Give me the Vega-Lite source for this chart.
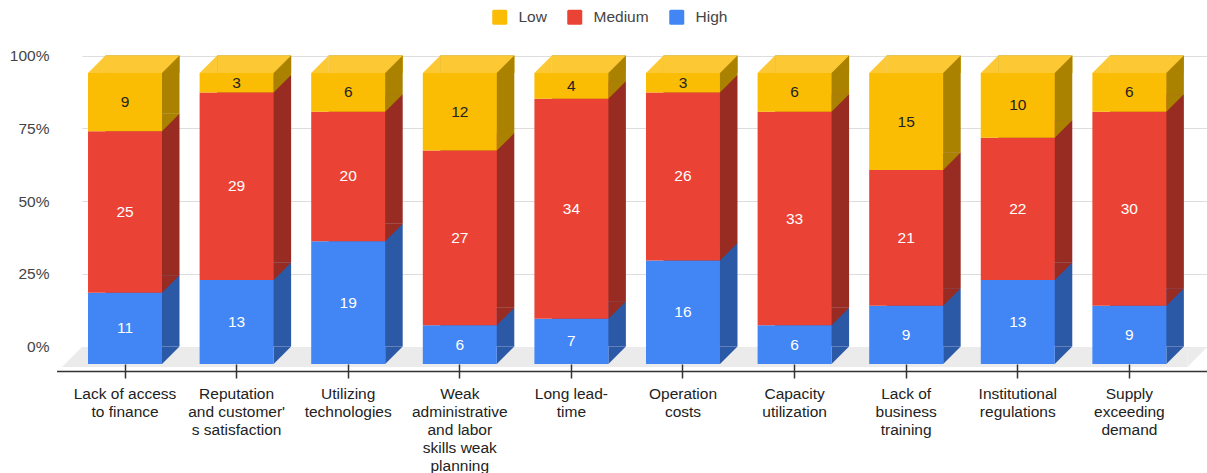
{
  "$schema": "https://vega.github.io/schema/vega-lite/v6.json",
  "width": 1125,
  "height": 291,
  "autosize": "none",
  "padding": {"left": 82, "top": 73, "right": 0, "bottom": 109},
  "config": {
    "view": {"stroke": null},
    "font": "Liberation Sans"
  },
  "datasets": {
    "survey": [
      {"factor": "Lack of access\nto finance", "level": "High", "count": 11},
      {"factor": "Lack of access\nto finance", "level": "Medium", "count": 25},
      {"factor": "Lack of access\nto finance", "level": "Low", "count": 9},
      {"factor": "Reputation\nand customer'\ns satisfaction", "level": "High", "count": 13},
      {"factor": "Reputation\nand customer'\ns satisfaction", "level": "Medium", "count": 29},
      {"factor": "Reputation\nand customer'\ns satisfaction", "level": "Low", "count": 3},
      {"factor": "Utilizing\ntechnologies", "level": "High", "count": 19},
      {"factor": "Utilizing\ntechnologies", "level": "Medium", "count": 20},
      {"factor": "Utilizing\ntechnologies", "level": "Low", "count": 6},
      {"factor": "Weak\nadministrative\nand labor\nskills weak\nplanning", "level": "High", "count": 6},
      {"factor": "Weak\nadministrative\nand labor\nskills weak\nplanning", "level": "Medium", "count": 27},
      {"factor": "Weak\nadministrative\nand labor\nskills weak\nplanning", "level": "Low", "count": 12},
      {"factor": "Long lead-\ntime", "level": "High", "count": 7},
      {"factor": "Long lead-\ntime", "level": "Medium", "count": 34},
      {"factor": "Long lead-\ntime", "level": "Low", "count": 4},
      {"factor": "Operation\ncosts", "level": "High", "count": 16},
      {"factor": "Operation\ncosts", "level": "Medium", "count": 26},
      {"factor": "Operation\ncosts", "level": "Low", "count": 3},
      {"factor": "Capacity\nutilization", "level": "High", "count": 6},
      {"factor": "Capacity\nutilization", "level": "Medium", "count": 33},
      {"factor": "Capacity\nutilization", "level": "Low", "count": 6},
      {"factor": "Lack of\nbusiness\ntraining", "level": "High", "count": 9},
      {"factor": "Lack of\nbusiness\ntraining", "level": "Medium", "count": 21},
      {"factor": "Lack of\nbusiness\ntraining", "level": "Low", "count": 15},
      {"factor": "Institutional\nregulations", "level": "High", "count": 13},
      {"factor": "Institutional\nregulations", "level": "Medium", "count": 22},
      {"factor": "Institutional\nregulations", "level": "Low", "count": 10},
      {"factor": "Supply\nexceeding\ndemand", "level": "High", "count": 9},
      {"factor": "Supply\nexceeding\ndemand", "level": "Medium", "count": 30},
      {"factor": "Supply\nexceeding\ndemand", "level": "Low", "count": 6}
    ],
    "levels": [
      {"level": "High", "stackOrder": 1},
      {"level": "Medium", "stackOrder": 2},
      {"level": "Low", "stackOrder": 3}
    ]
  },
  "data": {"name": "survey"},
  "transform": [
    {"lookup": "level", "from": {"data": {"name": "levels"}, "key": "level", "fields": ["stackOrder"]}}
  ],
  "layer": [
    {
      "data": {"values": [{}]},
      "mark": {"type": "rule", "color": "#ebebeb", "strokeWidth": 20, "yOffset": -7, "xOffset": -6, "x2Offset": 21},
      "encoding": {
        "x": {"datum": "Lack of access\nto finance", "type": "nominal", "bandPosition": 0},
        "x2": {"datum": "Supply\nexceeding\ndemand", "bandPosition": 1},
        "y": {"datum": 0, "type": "quantitative"}
      }
    },
    {
      "data": {"values": [{}]},
      "mark": {"type": "point", "shape": "M0,0L-1,1L0,1Z", "size": 1600, "filled": true, "opacity": 1, "strokeWidth": 0, "color": "#ebebeb", "xOffset": -6, "yOffset": -17},
      "encoding": {
        "x": {"datum": "Lack of access\nto finance", "type": "nominal", "bandPosition": 0},
        "y": {"datum": 0, "type": "quantitative"}
      }
    },
    {
      "data": {"values": [{}]},
      "mark": {"type": "point", "shape": "M0,0L1,0L0,1Z", "size": 1600, "filled": true, "opacity": 1, "strokeWidth": 0, "color": "#ebebeb", "xOffset": 21, "yOffset": -17},
      "encoding": {
        "x": {"datum": "Supply\nexceeding\ndemand", "type": "nominal", "bandPosition": 1},
        "y": {"datum": 0, "type": "quantitative"}
      }
    },
    {
      "data": {"values": [{}]},
      "mark": {"type": "rule", "color": "#333333", "strokeWidth": 1.5, "yOffset": 7.5, "xOffset": -31, "x2Offset": 41},
      "encoding": {
        "x": {"datum": "Lack of access\nto finance", "type": "nominal", "bandPosition": 0},
        "x2": {"datum": "Supply\nexceeding\ndemand", "bandPosition": 1},
        "y": {"datum": 0, "type": "quantitative"}
      }
    },
    {
      "mark": {"type": "bar", "xOffset": 17.5, "yOffset": -17.5, "y2Offset": -17.5},
      "encoding": {
        "x": {"field": "factor", "type": "nominal", "sort": null},
        "y": {"field": "count", "type": "quantitative", "stack": "normalize"},
        "order": {"field": "stackOrder"},
        "fill": {
          "field": "level",
          "type": "nominal",
          "scale": {"domain": ["High", "Medium", "Low"], "range": ["#2c59a5", "#982b22", "#aa8200"]},
          "legend": null
        }
      }
    },
    {
      "mark": {"type": "point", "shape": "M0,0L0,-1L1,-1Z", "size": 1225, "filled": true, "opacity": 1, "strokeWidth": 0},
      "encoding": {
        "x": {"field": "factor", "type": "nominal", "sort": null, "bandPosition": 1},
        "y": {"field": "count", "type": "quantitative", "stack": "normalize", "bandPosition": 0},
        "order": {"field": "stackOrder"},
        "fill": {"field": "level", "type": "nominal", "legend": null}
      }
    },
    {
      "transform": [{"filter": {"field": "level", "equal": "Low"}}],
      "mark": {"type": "bar", "color": "#fcc934", "xOffset": 17.5, "yOffset": -17.5},
      "encoding": {
        "x": {"field": "factor", "type": "nominal", "sort": null},
        "y": {"datum": 1, "type": "quantitative"},
        "y2": {"datum": 1}
      }
    },
    {
      "transform": [{"filter": {"field": "level", "equal": "Low"}}],
      "mark": {"type": "point", "shape": "M0,0L1,-1L1,0Z", "size": 1225, "filled": true, "opacity": 1, "strokeWidth": 0, "color": "#fcc934"},
      "encoding": {
        "x": {"field": "factor", "type": "nominal", "sort": null, "bandPosition": 0},
        "y": {"datum": 1, "type": "quantitative"}
      }
    },
    {
      "transform": [{"filter": {"field": "level", "equal": "Low"}}],
      "mark": {"type": "point", "shape": "M0,0L1,-1L1,0Z", "size": 1225, "filled": true, "opacity": 1, "strokeWidth": 0, "color": "#aa8200"},
      "encoding": {
        "x": {"field": "factor", "type": "nominal", "sort": null, "bandPosition": 1},
        "y": {"datum": 1, "type": "quantitative"}
      }
    },
    {
      "mark": {"type": "bar"},
      "encoding": {
        "x": {
          "field": "factor",
          "type": "nominal",
          "sort": null,
          "scale": {
            "domain": [
              "Lack of access\nto finance",
              "Reputation\nand customer'\ns satisfaction",
              "Utilizing\ntechnologies",
              "Weak\nadministrative\nand labor\nskills weak\nplanning",
              "Long lead-\ntime",
              "Operation\ncosts",
              "Capacity\nutilization",
              "Lack of\nbusiness\ntraining",
              "Institutional\nregulations",
              "Supply\nexceeding\ndemand"
            ],
            "paddingInner": 0.337,
            "paddingOuter": 0.209,
            "align": 0.129
          },
          "axis": {
            "title": null,
            "domain": false,
            "grid": false,
            "ticks": true,
            "tickSize": 14,
            "tickColor": "#333333",
            "tickWidth": 1.5,
            "labelPadding": 8,
            "labelAngle": 0,
            "labelAlign": "center",
            "labelBaseline": "top",
            "labelFontSize": 15.5,
            "labelColor": "#222222",
            "labelLineHeight": 18,
            "labelOverlap": false,
            "labelExpr": "split(datum.label, '\\n')",
            "zindex": 1
          }
        },
        "y": {
          "field": "count",
          "type": "quantitative",
          "stack": "normalize",
          "scale": {"domain": [0, 1], "nice": false, "zero": true},
          "axis": {
            "title": null,
            "values": [0, 0.25, 0.5, 0.75, 1],
            "format": ".0%",
            "domain": false,
            "ticks": false,
            "tickSize": 0,
            "grid": true,
            "labelPadding": 33,
            "tickOffset": -17.5,
            "gridColor": {"condition": {"test": "datum.value === 0", "value": "#6f6f6f"}, "value": "#dddddd"},
            "labelFontSize": 15.5,
            "labelColor": "#444444"
          }
        },
        "order": {"field": "stackOrder"},
        "color": {
          "field": "level",
          "type": "nominal",
          "scale": {"domain": ["Low", "Medium", "High"], "range": ["#fbbc04", "#ea4335", "#4285f4"]},
          "legend": {
            "title": null,
            "orient": "none",
            "direction": "horizontal",
            "legendX": 410,
            "legendY": -64,
            "symbolType": "M-1,-0.8Q-1,-1,-0.8,-1L0.8,-1Q1,-1,1,-0.8L1,0.8Q1,1,0.8,1L-0.8,1Q-1,1,-1,0.8Z",
            "symbolSize": 225,
            "symbolStrokeWidth": 0,
            "labelFontSize": 15.5,
            "labelColor": "#444444",
            "labelOffset": 11,
            "columnPadding": 20,
            "padding": 0
          }
        }
      }
    },
    {
      "mark": {"type": "text", "fontSize": 15.5},
      "encoding": {
        "x": {"field": "factor", "type": "nominal", "sort": null},
        "y": {"field": "count", "type": "quantitative", "stack": "normalize", "bandPosition": 0.5},
        "order": {"field": "stackOrder"},
        "text": {"field": "count", "type": "quantitative"},
        "color": {"condition": {"test": "datum.level === 'Low'", "value": "#222222"}, "value": "#ffffff"}
      }
    }
  ]
}
